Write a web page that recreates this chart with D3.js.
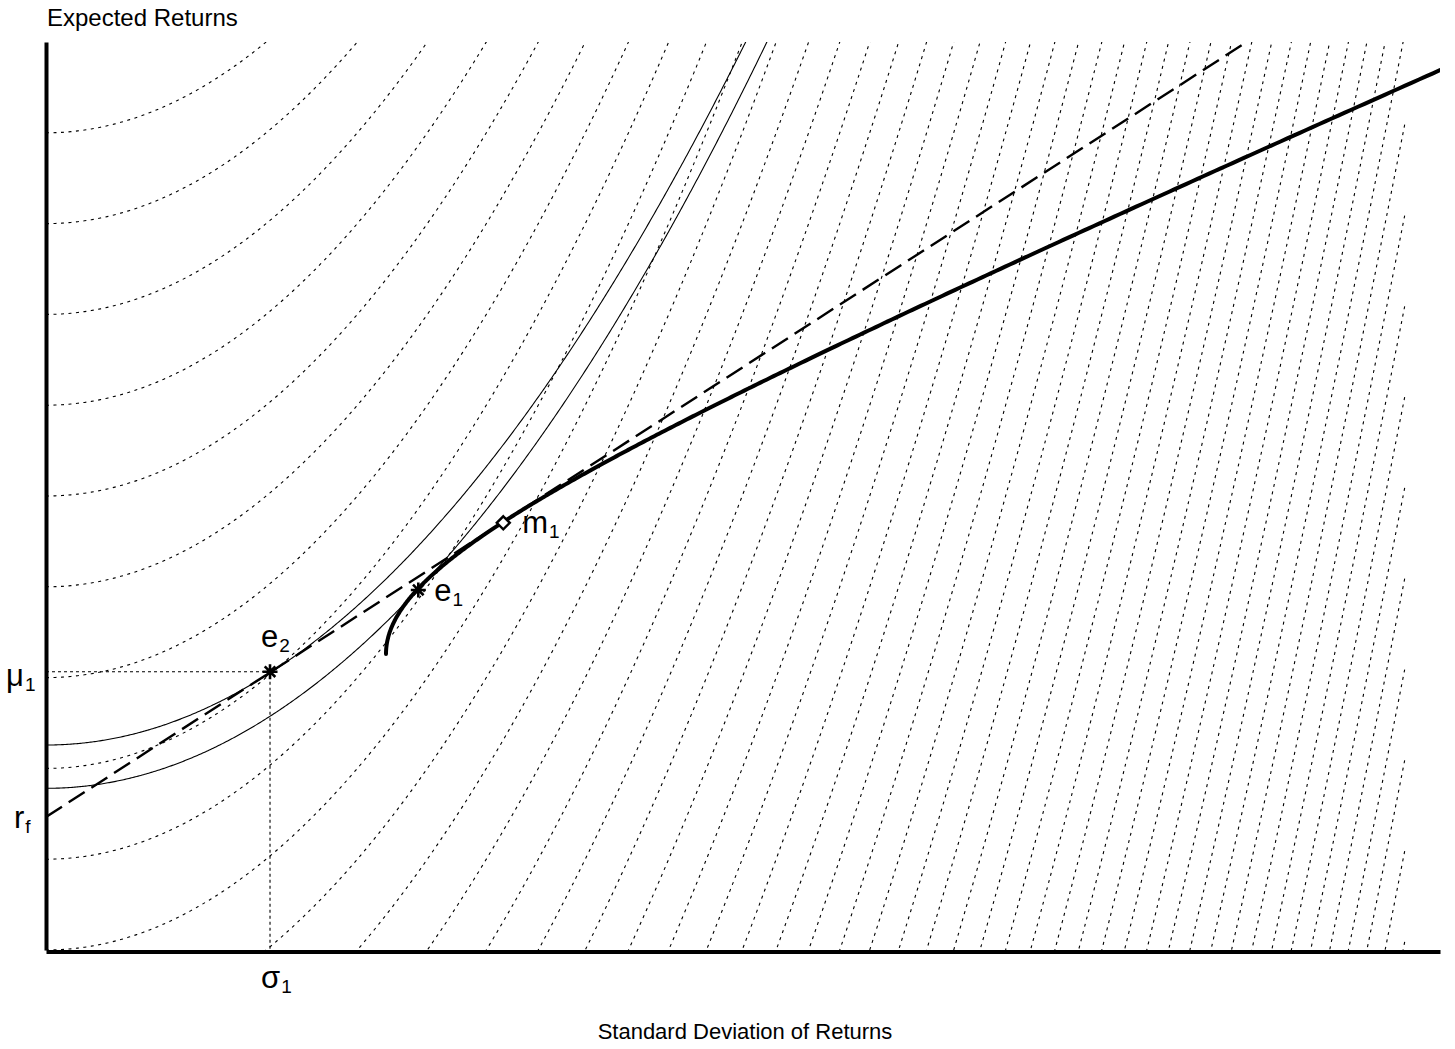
<!DOCTYPE html>
<html>
	<head>
		<meta charset="utf-8">
		<title>Efficient frontier and indifference curves</title>
		<script src="https://d3js.org/d3.v7.min.js"></script>
		<style>
			body { margin: 0; background: #fff; }
			text { font-family: Arial, "Liberation Sans", sans-serif; fill: #000; }
		</style>
	</head>
	<body>
		<script>
			// values (sigma = std dev, mu = expected return)
			var indiffLevels = [0.18, 0.16, 0.14, 0.12, 0.10, 0.08, 0.06, 0.04, 0.02, 0,
				-0.02, -0.04, -0.06, -0.08, -0.10, -0.12, -0.14, -0.16, -0.18, -0.20,
				-0.22, -0.24, -0.26, -0.28, -0.30, -0.32, -0.34, -0.36, -0.38, -0.40,
				-0.42, -0.44, -0.46, -0.48, -0.50, -0.52, -0.54, -0.56, -0.58, -0.60,
				-0.62, -0.64, -0.66, -0.68, -0.70, -0.72, -0.74, -0.76];
			var indiffCurvature = 8.91;     // mu = level + a * sigma^2
			var indiffSigmaMax = 0.2925;

			var thinLevels = [0.04515, 0.03561];  // the two indifference curves through e2 and e1
			var thinCurvature = 6.83;

			var frontierVertex = [0.07317, 0.0652];  // minimum variance point [sigma, mu]
			var frontierSlope = 0.442;               // asymptote slope
			var frontierSigmaMax = 0.3;

			var cmlLine = [[0, 0.0293], [0.2584, 0.2]];

			var points = [
				{ id: "e2", name: "e", sub: "2", sigma: 0.04821, mu: 0.0613, mark: "asterisk" },
				{ id: "e1", name: "e", sub: "1", sigma: 0.08012, mu: 0.0793, mark: "asterisk" },
				{ id: "m1", name: "m", sub: "1", sigma: 0.09841, mu: 0.0941, mark: "diamond" }
			];

			var w = 1455;
			var h = 1049;

			var xScale = d3.scaleLinear().domain([0, 0.3]).range([46, 1440]);
			var yScale = d3.scaleLinear().domain([0, 0.2]).range([950, 42]);

			var svg = d3.select("body")
						.append("svg")
						.attr("width", w)
						.attr("height", h);

			svg.append("clipPath")
				.attr("id", "plotclip")
				.append("rect")
				.attr("x", 46)
				.attr("y", 42)
				.attr("width", 1394)
				.attr("height", 908);

			var plot = svg.append("g").attr("clip-path", "url(#plotclip)");

			var line = d3.line()
				.x(function(d) { return xScale(d[0]); })
				.y(function(d) { return yScale(d[1]); });

			function parabola(level, a, sMax) {
				var pts = [];
				var n = 600;
				for (var i = 0; i <= n; i++) {
					var s = sMax * i / n;
					pts.push([s, level + a * s * s]);
				}
				return pts;
			}

			// dotted indifference curves
			plot.selectAll("path.indiff")
				.data(indiffLevels)
				.enter()
				.append("path")
				.attr("class", "indiff")
				.attr("d", function(c) { return line(parabola(c, indiffCurvature, indiffSigmaMax)); })
				.attr("fill", "none")
				.attr("stroke", "#000")
				.attr("stroke-width", 1.1)
				.attr("stroke-dasharray", "3,4.5");

			// guide lines to e2
			var e2 = points[0];
			plot.append("path")
				.attr("d", line([[0, e2.mu], [e2.sigma, e2.mu], [e2.sigma, 0]]))
				.attr("fill", "none")
				.attr("stroke", "#000")
				.attr("stroke-width", 1.1)
				.attr("stroke-dasharray", "3,3");

			// thin solid indifference curves
			plot.selectAll("path.thin")
				.data(thinLevels)
				.enter()
				.append("path")
				.attr("class", "thin")
				.attr("d", function(c) { return line(parabola(c, thinCurvature, 0.17)); })
				.attr("fill", "none")
				.attr("stroke", "#000")
				.attr("stroke-width", 1.1);

			// capital market line
			plot.append("path")
				.attr("d", line(cmlLine))
				.attr("fill", "none")
				.attr("stroke", "#000")
				.attr("stroke-width", 2.4)
				.attr("stroke-dasharray", "19,8");

			// efficient frontier (upper branch of the hyperbola)
			var fr = [];
			var tMax = Math.acosh(frontierSigmaMax / frontierVertex[0]);
			for (var i = 0; i <= 400; i++) {
				var t = tMax * i / 400;
				fr.push([frontierVertex[0] * Math.cosh(t),
					frontierVertex[1] + frontierSlope * frontierVertex[0] * Math.sinh(t)]);
			}
			plot.append("path")
				.attr("d", line(fr))
				.attr("fill", "none")
				.attr("stroke", "#000")
				.attr("stroke-width", 4)
				.attr("stroke-linecap", "round");

			// axes
			var xAxis = d3.axisBottom(xScale).tickValues([]).tickSizeOuter(0);
			var yAxis = d3.axisLeft(yScale).tickValues([]).tickSizeOuter(0);
			svg.append("g")
				.attr("transform", "translate(0,951.5)")
				.call(xAxis)
				.select(".domain")
				.attr("stroke-width", 4);
			svg.append("g")
				.attr("transform", "translate(46,0)")
				.call(yAxis)
				.select(".domain")
				.attr("stroke-width", 4);

			// markers
			var asterisk = "M-7.5,0L7.5,0M0,-7.5L0,7.5M-5.3,-5.3L5.3,5.3M-5.3,5.3L5.3,-5.3";
			var marks = svg.selectAll("g.mark")
				.data(points)
				.enter()
				.append("g")
				.attr("class", "mark")
				.attr("transform", function(d) { return "translate(" + xScale(d.sigma) + "," + yScale(d.mu) + ")"; });
			marks.filter(function(d) { return d.mark === "asterisk"; })
				.append("path")
				.attr("d", asterisk)
				.attr("stroke", "#000")
				.attr("stroke-width", 2.6)
				.attr("fill", "none");
			marks.filter(function(d) { return d.mark === "diamond"; })
				.append("path")
				.attr("d", "M0,-6.5L6.5,0L0,6.5L-6.5,0Z")
				.attr("stroke", "#000")
				.attr("stroke-width", 2.4)
				.attr("fill", "#fff");

			// labels
			function subLabel(x, y, main, sub) {
				var t = svg.append("text")
					.attr("x", x)
					.attr("y", y)
					.attr("font-size", 31);
				t.append("tspan").text(main);
				t.append("tspan").attr("font-size", 19).attr("dy", 5).attr("dx", 1).text(sub);
			}
			var labelOffsets = { e2: [-9, -25], e1: [16, 11], m1: [19, 10] };
			points.forEach(function(d) {
				var o = labelOffsets[d.id];
				subLabel(xScale(d.sigma) + o[0], yScale(d.mu) + o[1], d.name, d.sub);
			});
			subLabel(6, yScale(e2.mu) + 14, "\u03bc", "1");
			subLabel(14, yScale(cmlLine[0][1]) + 11, "r", "f");
			subLabel(xScale(e2.sigma) - 9, 988, "\u03c3", "1");

			svg.append("text")
				.attr("x", 47)
				.attr("y", 26)
				.attr("font-size", 24)
				.text("Expected Returns");
			svg.append("text")
				.attr("x", 745)
				.attr("y", 1039)
				.attr("font-size", 22)
				.attr("text-anchor", "middle")
				.text("Standard Deviation of Returns");
		</script>
	</body>
</html>
